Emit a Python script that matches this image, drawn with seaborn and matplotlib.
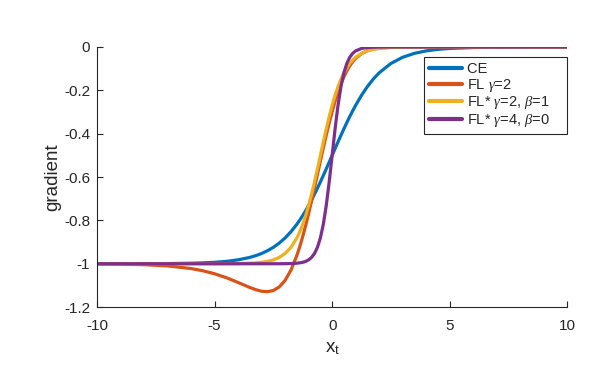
import matplotlib
matplotlib.use("Agg")
import matplotlib.pyplot as plt
import pandas as pd
import seaborn as sns

# x positions (denser in the steep middle part)
x_t = [-10, -9, -8, -7, -6, -5.5, -5, -4.5, -4, -3.5, -3.25, -3, -2.75, -2.5,
       -2.25, -2, -1.75, -1.5, -1.375, -1.25, -1.125, -1, -0.875, -0.75,
       -0.625, -0.5, -0.375, -0.25, -0.125, 0, 0.125, 0.25, 0.375, 0.5,
       0.625, 0.75, 0.875, 1, 1.25, 1.5, 1.75, 2, 2.5, 3, 3.5, 4, 4.5, 5,
       6, 7, 8, 9, 10]

ce = [-1.000, -1.000, -0.9997, -0.9991, -0.9975, -0.9959, -0.9933, -0.9890,
      -0.9820, -0.9707, -0.9627, -0.9526, -0.9399, -0.9241, -0.9047, -0.8808,
      -0.8520, -0.8176, -0.7982, -0.7773, -0.7549, -0.7311, -0.7058, -0.6792,
      -0.6514, -0.6225, -0.5927, -0.5622, -0.5312, -0.5000, -0.4688, -0.4378,
      -0.4073, -0.3775, -0.3486, -0.3208, -0.2942, -0.2689, -0.2227, -0.1824,
      -0.1480, -0.1192, -0.0759, -0.0474, -0.0293, -0.0180, -0.0110, -0.0067,
      -0.0025, -0.0009, -0.0003, -0.0001, 0.0]

fl_g2 = [-1.0008, -1.0019, -1.0044, -1.0100, -1.0221, -1.0323, -1.0462,
         -1.0644, -1.0864, -1.1096, -1.1196, -1.1268, -1.1289, -1.1234,
         -1.1071, -1.0767, -1.0289, -0.9614, -0.9201, -0.8738, -0.8230,
         -0.7683, -0.7102, -0.6498, -0.5880, -0.5262, -0.4652, -0.4062,
         -0.3503, -0.2983, -0.2507, -0.2081, -0.1705, -0.1379, -0.1103,
         -0.0871, -0.0681, -0.0526, -0.0305, -0.0170, -0.0092, -0.0049,
         -0.0013, -0.0003, 0.0, 0.0, 0.0, 0.0, 0.0, 0.0, 0.0, 0.0, 0.0]

fls_g2_b1 = [-1.000, -1.000, -1.000, -1.000, -1.000, -1.000, -0.9999, -0.9997,
             -0.9991, -0.9975, -0.9959, -0.9933, -0.9890, -0.9820, -0.9707,
             -0.9526, -0.9241, -0.8808, -0.8520, -0.8176, -0.7773, -0.7311,
             -0.6792, -0.6225, -0.5622, -0.5000, -0.4378, -0.3775, -0.3208,
             -0.2689, -0.2227, -0.1824, -0.1480, -0.1192, -0.0953, -0.0759,
             -0.0601, -0.0474, -0.0293, -0.0180, -0.0110, -0.0067, -0.0025,
             -0.0009, -0.0003, -0.0001, 0.0, 0.0, 0.0, 0.0, 0.0, 0.0, 0.0]

fls_g4_b0 = [-1.000, -1.000, -1.000, -1.000, -1.000, -1.000, -1.000, -1.000,
             -1.000, -1.000, -1.000, -1.000, -1.000, -1.000, -0.9999, -0.9997,
             -0.9991, -0.9975, -0.9959, -0.9933, -0.9890, -0.9820, -0.9707,
             -0.9526, -0.9241, -0.8808, -0.8176, -0.7311, -0.6225, -0.5000,
             -0.3775, -0.2689, -0.1824, -0.1192, -0.0759, -0.0474, -0.0293,
             -0.0180, -0.0067, -0.0025, -0.0009, -0.0003, 0.0, 0.0, 0.0, 0.0,
             0.0, 0.0, 0.0, 0.0, 0.0, 0.0, 0.0]

labels = ["CE", r"FL $\gamma$=2", r"FL* $\gamma$=2, $\beta$=1",
          r"FL* $\gamma$=4, $\beta$=0"]
colors = ["#0072BD", "#D95319", "#EDB120", "#7E2F8E"]

x_ticks = [-10, -5, 0, 5, 10]
y_ticks = [0, -0.2, -0.4, -0.6, -0.8, -1, -1.2]
y_tick_labels = ["0", "-0.2", "-0.4", "-0.6", "-0.8", "-1", "-1.2"]

sns.set_style("ticks")
plt.rcParams["font.family"] = ["Liberation Sans", "DejaVu Sans"]
plt.rcParams["mathtext.fontset"] = "custom"
plt.rcParams["mathtext.rm"] = "Liberation Sans"
plt.rcParams["mathtext.it"] = "Liberation Serif:italic"
plt.rcParams["axes.unicode_minus"] = False

frames = []
for lab, ys in zip(labels, [ce, fl_g2, fls_g2_b1, fls_g4_b0]):
    frames.append(pd.DataFrame({"x": x_t, "y": ys, "loss": lab}))
df = pd.concat(frames, ignore_index=True)

fig = plt.figure(figsize=(5.99, 3.70), dpi=100)
ax = fig.add_axes([0.162, 0.170, 0.785, 0.703])

sns.lineplot(data=df, x="x", y="y", hue="loss", hue_order=labels,
             palette=colors, linewidth=2.3, sort=False, ax=ax)

ax.set_xlim(-10, 10)
ax.set_ylim(-1.2, 0)
ax.set_xticks(x_ticks)
ax.set_xticklabels([str(v) for v in x_ticks])
ax.set_yticks(y_ticks)
ax.set_yticklabels(y_tick_labels)
ax.tick_params(direction="in", length=4, width=0.8, labelsize=11,
               colors="#262626")
ax.tick_params(axis="x", pad=8.5)
ax.tick_params(axis="y", pad=5)
for s in ["top", "right"]:
    ax.spines[s].set_visible(False)
for s in ["left", "bottom"]:
    ax.spines[s].set_linewidth(0.8)
    ax.spines[s].set_color("#262626")

ax.set_xlabel(r"x$_\mathrm{t}$", fontsize=13.5, color="#262626", labelpad=5)
ax.set_ylabel("gradient", fontsize=13.5, color="#262626", labelpad=2)

# MATLAB-style legend: extra room on the right of the labels
handles, _ = ax.get_legend_handles_labels()
leg = ax.legend(handles=handles, labels=[lab + "    " for lab in labels],
                loc="upper right", bbox_to_anchor=(1.0, 0.962),
                borderaxespad=0, fontsize=10.5, frameon=True, fancybox=False,
                edgecolor="#262626", framealpha=1, handlelength=2.3,
                handletextpad=0.3, labelspacing=0.05, borderpad=0.35)
leg.get_frame().set_linewidth(0.8)
for line in leg.get_lines():
    line.set_linewidth(3)

fig.savefig("out.png", dpi=100)
